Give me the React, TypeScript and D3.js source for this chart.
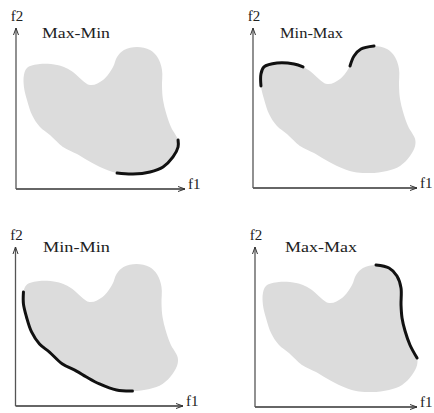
import React from 'react';
import * as d3 from 'd3';

// outline of the feasible region, in f1/f2 units (0..100), clockwise from top-left
const blobF1 = [4.7, 6.5, 14.2, 24.3, 29.6, 33.7, 43.8, 51.5, 57.4, 59.8, 63.9, 71.6, 79.3, 84, 86.4, 86.4, 87, 88.8, 91.7, 95.9, 95.9, 92.9, 87, 79.3, 69.2, 59.8, 49.7, 42, 36.1, 27.8, 20.1, 14.2, 9.5, 6.5, 4.7];
const blobF2 = [70.8, 75.2, 77.6, 77, 75.2, 72.7, 64.6, 67.7, 75.8, 82, 86.3, 88.2, 86.3, 81.4, 73.9, 63.4, 55.3, 47.2, 38.5, 30.4, 26.1, 19.9, 13.7, 10.6, 9.3, 9.9, 13.7, 18, 21.7, 26.1, 33.5, 38.5, 46, 55.3, 63.4];

const panelTitles = ['Max-Min', 'Min-Max', 'Min-Min', 'Max-Max'];
// highlighted boundary pieces: [from index, to index] along the outline (wrapping)
const panelSegments: number[][][] = [
  [[19, 25]],
  [[34, 4], [8, 11]],
  [[24, 0]],
  [[11, 19]],
];
const axisLabels = ['f1', 'f2'];

// placement of each small panel (pixels)
const panels = [
  { ox: 16, oy: 189, xEnd: 185, yTop: 28, titleX: 42, titleY: 38, titleW: 68 },
  { ox: 253, oy: 188, xEnd: 417, yTop: 28, titleX: 280, titleY: 38, titleW: 63 },
  { ox: 15.5, oy: 406, xEnd: 183, yTop: 247, titleX: 43, titleY: 252, titleW: 67 },
  { ox: 255, oy: 407, xEnd: 417, yTop: 247, titleX: 285, titleY: 252, titleW: 72 },
];

const font = "'Liberation Serif', 'DejaVu Serif', serif";

function indexRange(a: number, b: number, n: number) {
  const out: number[] = [];
  let i = a;
  while (true) {
    out.push(i);
    if (i === b) break;
    i = (i + 1) % n;
  }
  return out;
}

const pts = blobF1.map((f1, i) => [f1, blobF2[i]] as [number, number]);

const Panel = ({ p, title, segs }: any) => {
  const x = d3.scaleLinear().domain([0, 100]).range([p.ox, p.ox + 169]);
  const y = d3.scaleLinear().domain([0, 100]).range([p.oy, p.oy - 161]);

  const closed = d3.line<[number, number]>()
    .x(d => x(d[0]))
    .y(d => y(d[1]))
    .curve(d3.curveCatmullRomClosed.alpha(0.5));
  const open = d3.line<[number, number]>()
    .x(d => x(d[0]))
    .y(d => y(d[1]))
    .curve(d3.curveCatmullRom.alpha(0.5));

  return (
    <g>
      <path d={closed(pts) || ''} fill="#dcdcdc" stroke="none" />
      {segs.map((s: number[], i: number) => (
        <path
          key={i}
          d={open(indexRange(s[0], s[1], pts.length).map(k => pts[k])) || ''}
          fill="none"
          stroke="#111"
          strokeWidth={3}
          strokeLinecap="round"
        />
      ))}
      {/* axes */}
      <line x1={p.ox} y1={p.oy} x2={p.xEnd} y2={p.oy} stroke="#333" strokeWidth={1.3} />
      <line x1={p.ox} y1={p.oy} x2={p.ox} y2={p.yTop} stroke="#555" strokeWidth={1.3} />
      <path
        d={`M${p.xEnd - 7},${p.oy - 2.5}L${p.xEnd},${p.oy}L${p.xEnd - 7},${p.oy + 2.5}`}
        fill="none" stroke="#333" strokeWidth={1}
      />
      <path
        d={`M${p.ox - 2.5},${p.yTop + 7}L${p.ox},${p.yTop}L${p.ox + 2.5},${p.yTop + 7}`}
        fill="none" stroke="#333" strokeWidth={1}
      />
      <text x={p.xEnd + 3} y={p.oy} style={{ fontFamily: font, fontSize: 15 }} fill="#222">{axisLabels[0]}</text>
      <text x={p.ox + 1} y={p.yTop - 7} textAnchor="middle" style={{ fontFamily: font, fontSize: 15 }} fill="#222">{axisLabels[1]}</text>
      <text x={p.titleX} y={p.titleY} style={{ fontFamily: font, fontSize: 15 }} fill="#222"
        textLength={p.titleW} lengthAdjust="spacingAndGlyphs">{title}</text>
    </g>
  );
};

export default function App() {
  return (
    <svg width={434} height={413} style={{ position: 'absolute', left: 0, top: 0, background: '#fff' }}>
      {panels.map((p, i) => (
        <Panel key={i} p={p} title={panelTitles[i]} segs={panelSegments[i]} />
      ))}
    </svg>
  );
}
